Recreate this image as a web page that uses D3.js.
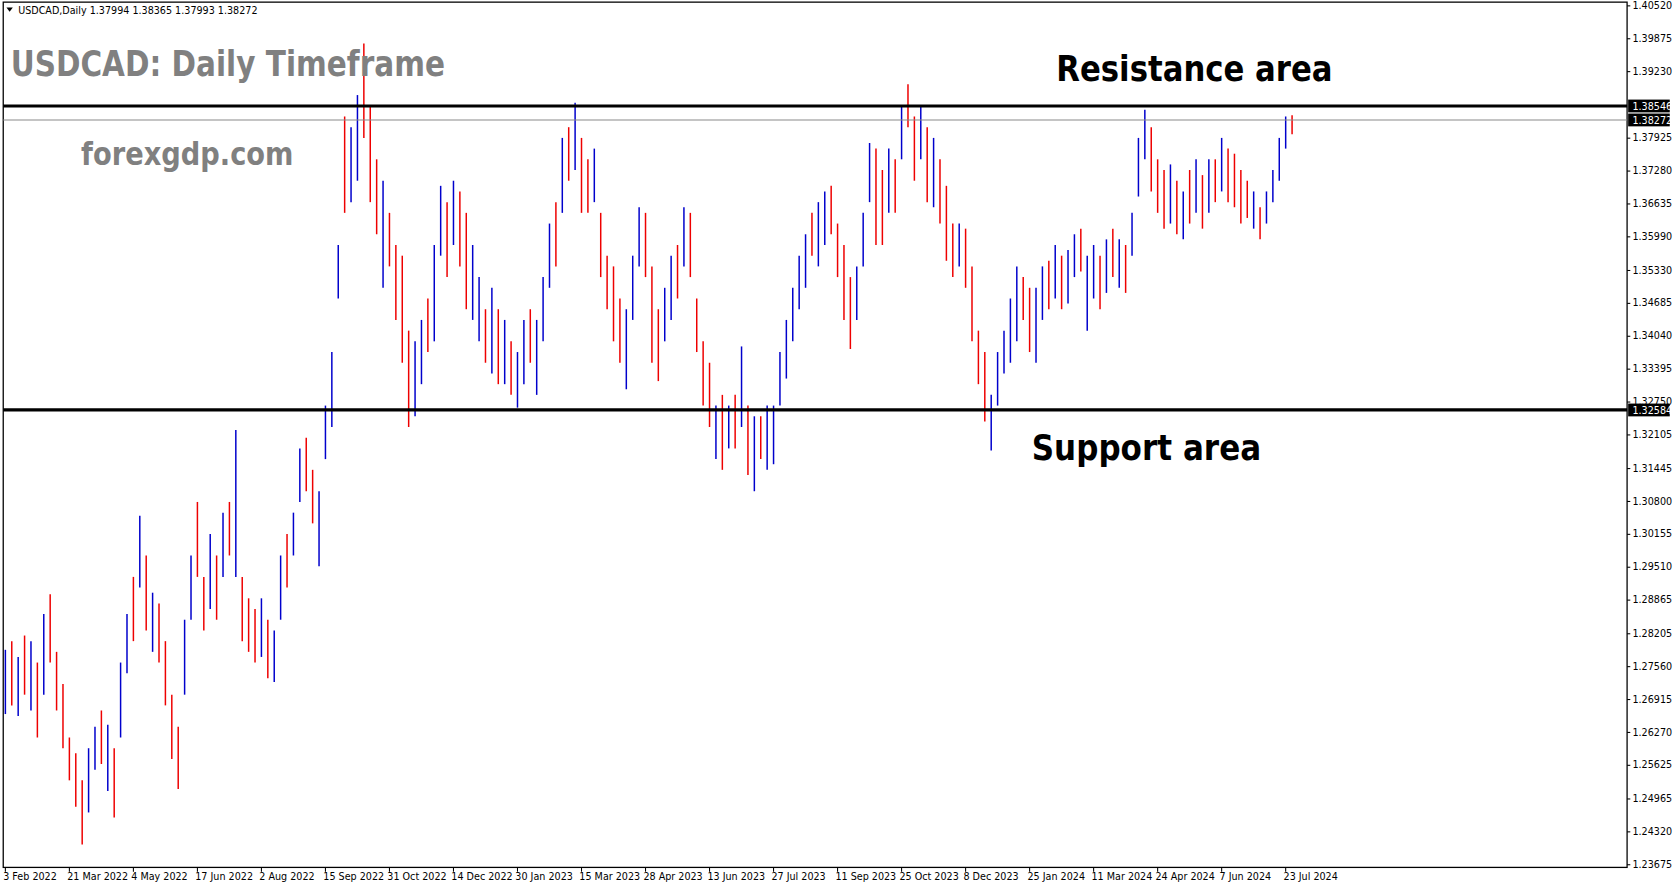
<!DOCTYPE html>
<html>
<head>
<meta charset="utf-8">
<script src="https://cdn.jsdelivr.net/npm/d3@7"></script>
<style>
  body { margin:0; background:#fff; overflow:hidden; }
  svg { display:block; }
  svg text { font-family: "DejaVu Sans", sans-serif; }
</style>
</head>
<body>
<svg id="chart" width="1673" height="888" viewBox="0 0 1568 832.3"></svg>
<script>
// bar highs / lows (~3 trading days per bar)
var highs = [1.2788,1.2805,1.2774,1.2816,1.2805,1.2763,1.2858,1.2897,1.2784,1.2721,
1.2616,1.2585,1.2532,1.2595,1.2637,1.2669,1.2641,1.2595,1.2763,1.2858,
1.2931,1.3051,1.2973,1.2900,1.2879,1.2805,1.2700,1.2637,1.2847,1.2973,
1.3078,1.2931,1.3015,1.2973,1.3057,1.3078,1.3219,1.2931,1.2889,1.2868,
1.2889,1.2847,1.2826,1.2973,1.3015,1.3057,1.3183,1.3204,1.3141,1.3099,
1.3267,1.3372,1.3582,1.3834,1.3813,1.3876,1.3977,1.3855,1.3750,1.3708,
1.3645,1.3582,1.3561,1.3414,1.3393,1.3435,1.3477,1.3582,1.3698,1.3666,
1.3708,1.3687,1.3645,1.3582,1.3519,1.3456,1.3498,1.3456,1.3435,1.3393,
1.3372,1.3435,1.3456,1.3435,1.3519,1.3624,1.3666,1.3792,1.3813,1.3861,
1.3792,1.3750,1.3771,1.3645,1.3561,1.3540,1.3477,1.3456,1.3561,1.3656,
1.3645,1.3540,1.3456,1.3498,1.3561,1.3582,1.3656,1.3645,1.3477,1.3393,
1.3351,1.3267,1.3288,1.3267,1.3288,1.3383,1.3267,1.3246,1.3246,1.3267,
1.3267,1.3372,1.3435,1.3498,1.3561,1.3603,1.3645,1.3666,1.3687,1.3698,
1.3624,1.3582,1.3519,1.3540,1.3645,1.3782,1.3771,1.3729,1.3771,1.3750,
1.3855,1.3897,1.3834,1.3855,1.3813,1.3792,1.3750,1.3698,1.3624,1.3624,
1.3614,1.3540,1.3414,1.3372,1.3288,1.3372,1.3414,1.3477,1.3540,1.3519,
1.3498,1.3498,1.3540,1.3551,1.3582,1.3561,1.3572,1.3603,1.3614,1.3561,
1.3582,1.3561,1.3593,1.3614,1.3593,1.3582,1.3645,1.3792,1.3847,1.3813,
1.3750,1.3729,1.3740,1.3708,1.3687,1.3729,1.3750,1.3719,1.3750,1.3750,
1.3792,1.3771,1.3761,1.3729,1.3708,1.3687,1.3656,1.3687,1.3729,1.3792,
1.3834,1.38365];
var lows = [1.2662,1.2679,1.2658,1.2700,1.2669,1.2616,1.2700,1.2763,1.2669,1.2595,
1.2532,1.2480,1.2406,1.2469,1.2553,1.2564,1.2511,1.2459,1.2616,1.2742,
1.2805,1.2910,1.2826,1.2784,1.2763,1.2679,1.2574,1.2515,1.2700,1.2847,
1.2931,1.2826,1.2868,1.2847,1.2931,1.2973,1.2931,1.2805,1.2784,1.2763,
1.2774,1.2732,1.2725,1.2847,1.2910,1.2973,1.3078,1.3099,1.3036,1.2952,
1.3162,1.3225,1.3477,1.3645,1.3666,1.3708,1.3792,1.3666,1.3603,1.3498,
1.3540,1.3435,1.3351,1.3225,1.3246,1.3309,1.3372,1.3393,1.3561,1.3519,
1.3582,1.3540,1.3456,1.3435,1.3393,1.3351,1.3330,1.3309,1.3309,1.3288,
1.3263,1.3309,1.3351,1.3288,1.3393,1.3498,1.3540,1.3645,1.3708,1.3729,
1.3645,1.3645,1.3666,1.3519,1.3456,1.3393,1.3351,1.3299,1.3435,1.3540,
1.3519,1.3351,1.3315,1.3393,1.3435,1.3477,1.3540,1.3519,1.3372,1.3267,
1.3225,1.3162,1.3141,1.3183,1.3183,1.3225,1.3131,1.3099,1.3162,1.3141,
1.3152,1.3267,1.3320,1.3393,1.3456,1.3498,1.3561,1.3540,1.3582,1.3603,
1.3519,1.3435,1.3378,1.3435,1.3540,1.3666,1.3582,1.3582,1.3645,1.3645,
1.3750,1.3813,1.3708,1.3750,1.3666,1.3656,1.3624,1.3551,1.3519,1.3540,
1.3498,1.3393,1.3309,1.3236,1.3179,1.3267,1.3330,1.3351,1.3393,1.3435,
1.3372,1.3351,1.3435,1.3456,1.3477,1.3456,1.3467,1.3519,1.3530,1.3414,
1.3477,1.3456,1.3488,1.3519,1.3498,1.3488,1.3561,1.3677,1.3750,1.3687,
1.3645,1.3614,1.3624,1.3603,1.3593,1.3624,1.3645,1.3614,1.3645,1.3666,
1.3687,1.3666,1.3656,1.3624,1.3635,1.3614,1.3593,1.3624,1.3666,1.3708,
1.3771,1.37993];
// u = bullish bar (blue), d = bearish bar (red)
var dirs = "ududududdd" + "ddduududuu" + "dududddduu" + "ddudududdd" + "uduuduuddu" +
           "uuuduudddu" + "dddduuduud" + "udduududud" + "uuduuududu" + "ddudddduuu" +
           "ddduududdd" + "dududududu" + "uuuuuuduud" + "ddduuuddud" + "uddududddu" +
           "dddduuuuud" + "duududuudu" + "udududuuud" + "ddudududud" + "udddduduuu" + "ud";

var dateLabels = ["3 Feb 2022","21 Mar 2022","4 May 2022","17 Jun 2022","2 Aug 2022","15 Sep 2022",
  "31 Oct 2022","14 Dec 2022","30 Jan 2023","15 Mar 2023","28 Apr 2023","13 Jun 2023","27 Jul 2023",
  "11 Sep 2023","25 Oct 2023","8 Dec 2023","25 Jan 2024","11 Mar 2024","24 Apr 2024","7 Jun 2024","23 Jul 2024"];
var priceTicks = [1.40520,1.39875,1.39230,1.37925,1.37280,1.36635,1.35990,1.35330,1.34685,1.34040,
  1.33395,1.32750,1.32105,1.31445,1.30800,1.30155,1.29510,1.28865,1.28205,1.27560,1.26915,1.26270,
  1.25625,1.24965,1.24320,1.23675];
var resistance = 1.38546, support = 1.32584, lastClose = 1.38272;

var svg = d3.select("#chart")
var plotL = 3, plotR = 1525, plotT = 2, plotB = 813;

var y = d3.scaleLinear().domain([1.23675,1.40520]).range([810,5])
var x = d3.scaleLinear().domain([0,201]).range([5,1211])

svg.append("rect").attr("x",plotL).attr("y",plotT).attr("width",plotR-plotL).attr("height",plotB-plotT)
   .attr("fill","#fff").attr("stroke","#000").attr("stroke-width",1.2)

// bars
svg.append("g").selectAll("line").data(highs).enter().append("line")
   .attr("x1",function(d,i){return x(i)}).attr("x2",function(d,i){return x(i)})
   .attr("y1",function(d){return y(d)}).attr("y2",function(d,i){return y(lows[i])})
   .attr("stroke",function(d,i){return dirs[i]=="u" ? "#0000cc" : "#ee0000"})
   .attr("stroke-width",1.4)

// levels
svg.append("line").attr("x1",plotL).attr("x2",plotR).attr("y1",y(lastClose)).attr("y2",y(lastClose))
   .attr("stroke","#8a8a8a").attr("stroke-width",1)
;[resistance,support].forEach(function(v){
  svg.append("line").attr("x1",plotL).attr("x2",plotR).attr("y1",y(v)).attr("y2",y(v))
     .attr("stroke","#000").attr("stroke-width",3)
})

// price axis
var ax = svg.append("g").attr("transform","translate("+plotR+",0)")
  .call(d3.axisRight(y).tickValues(priceTicks).tickSize(3).tickFormat(d3.format(".5f")))
ax.select(".domain").remove()
ax.selectAll("text").attr("font-size","9px").attr("font-family","DejaVu Sans").attr("x",5).attr("fill","#000")
;[resistance,lastClose,support].forEach(function(v){
  var g = svg.append("g").attr("transform","translate("+(plotR+1)+","+y(v)+")")
  g.append("rect").attr("x",0).attr("y",-6).attr("width",39).attr("height",12).attr("fill","#000")
  g.append("text").attr("x",4).attr("y",3.5).attr("fill","#fff").attr("font-size","9px").text(v.toFixed(5))
})

// date axis
var dx = svg.append("g")
dateLabels.forEach(function(t,k){
  var xx = x(k*10)
  dx.append("line").attr("x1",xx).attr("x2",xx).attr("y1",plotB).attr("y2",plotB+4).attr("stroke","#000")
  dx.append("text").attr("x",xx-2).attr("y",825).attr("font-size","9px").text(t)
})

// titles
svg.append("path").attr("d","M6,7 L12,7 L9,11 Z").attr("fill","#000")
svg.append("text").attr("x",17).attr("y",13).attr("font-size","9px")
   .text("USDCAD,Daily  1.37994 1.38365 1.37993 1.38272")
svg.append("text").attr("x",10).attr("y",71).attr("font-family","Lato").attr("font-weight","bold")
   .attr("font-size","33px").attr("fill","#808080").attr("textLength",407).attr("lengthAdjust","spacingAndGlyphs")
   .text("USDCAD: Daily Timeframe")
svg.append("text").attr("x",76).attr("y",155).attr("font-family","Lato").attr("font-weight","bold")
   .attr("font-size","30px").attr("fill","#808080").attr("textLength",199).attr("lengthAdjust","spacingAndGlyphs")
   .text("forexgdp.com")
svg.append("text").attr("x",990).attr("y",76).attr("font-family","Lato").attr("font-weight","bold")
   .attr("font-size","34px").attr("fill","#000").attr("textLength",259).attr("lengthAdjust","spacingAndGlyphs")
   .text("Resistance area")
svg.append("text").attr("x",967).attr("y",431).attr("font-family","Lato").attr("font-weight","bold")
   .attr("font-size","34px").attr("fill","#000").attr("textLength",215).attr("lengthAdjust","spacingAndGlyphs")
   .text("Support area")
</script>
</body>
</html>
